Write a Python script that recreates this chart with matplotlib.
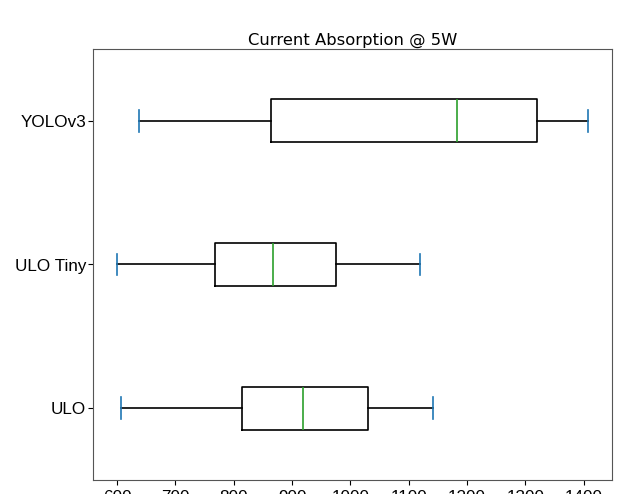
import matplotlib
matplotlib.use('Agg')
import matplotlib.pyplot as plt

# five-number summaries
labels = ['ULO', 'ULO Tiny', 'YOLOv3']
whislo = [607, 599, 638]
q1 = [814, 767, 863]
med = [919, 867, 1183]
q3 = [1030, 976, 1320]
whishi = [1142, 1119, 1408]

stats = []
for i in range(len(labels)):
    stats.append({'label': labels[i], 'whislo': whislo[i], 'q1': q1[i], 'med': med[i],
                  'q3': q3[i], 'whishi': whishi[i], 'fliers': []})

fig = plt.figure(figsize=(6.29, 4.94), dpi=100)
ax = fig.add_axes([93/629, 1-480/494, (612-93)/629, (480-49)/494])

ax.bxp(stats, vert=False, showfliers=False,
       boxprops=dict(color='black', linewidth=1.2),
       whiskerprops=dict(color='black', linewidth=1.2),
       capprops=dict(color='C0', linewidth=1.2),
       medianprops=dict(color='C2', linewidth=1.2))

ax.set_title('Current Absorption @ 5W', fontsize=11.8, pad=3)
ax.set_xticks(range(600, 1401, 100))
ax.tick_params(axis='y', pad=1.5)
for lab in ax.get_xticklabels() + ax.get_yticklabels():
    lab.set_fontfamily('Liberation Sans')
    lab.set_fontsize(12.3)
for sp in ax.spines.values():
    sp.set_color('#555555')

plt.savefig('out.png', dpi=100)
